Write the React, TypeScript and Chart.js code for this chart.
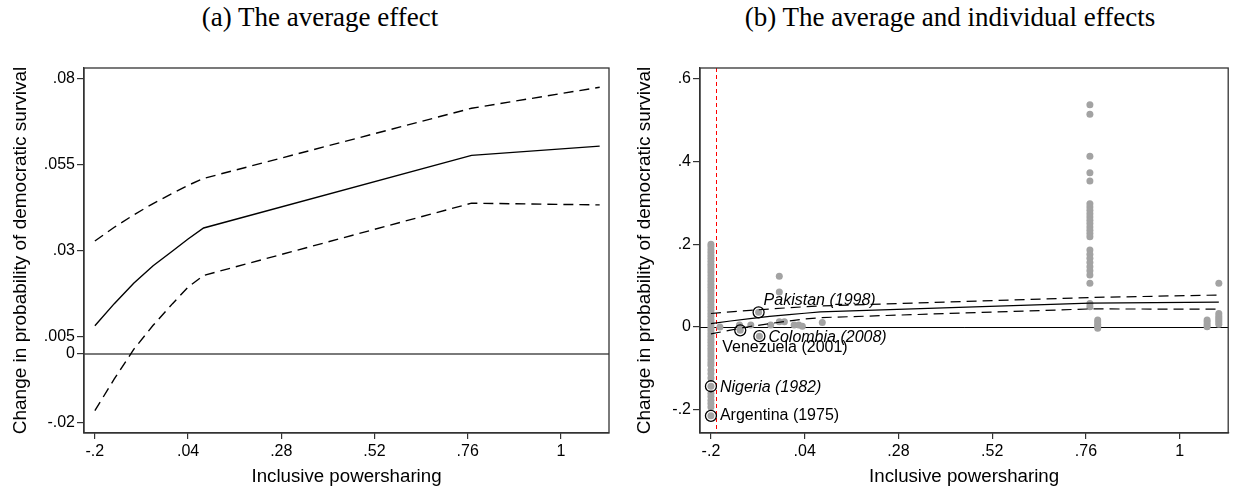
import React, { useEffect, useRef } from 'react';
import { Chart, registerables } from 'chart.js';
Chart.register(...registerables);

// ---- average effect (marginal effect curve with 95% bounds) ----
const X_VALUES = [-0.2, -0.15, -0.1, -0.05, 0, 0.04, 0.08, 0.77, 1.1];
const AVG_EFFECT = [0.0082, 0.0146, 0.0205, 0.0256, 0.0299, 0.0334, 0.0366, 0.0577, 0.0604];
const UPPER_CI = [0.0328, 0.0368, 0.0404, 0.0437, 0.0467, 0.049, 0.051, 0.0714, 0.0775];
const LOWER_CI = [-0.0165, -0.0073, 0.0013, 0.0083, 0.0146, 0.0194, 0.0228, 0.0438, 0.0433];

// ---- axis ticks ----
const X_TICKS = [-0.2, 0.04, 0.28, 0.52, 0.76, 1];
const Y_TICKS_A = [-0.02, 0, 0.005, 0.03, 0.055, 0.08];
const Y_TICKS_B = [-0.2, 0, 0.2, 0.4, 0.6];
const THRESHOLD_X = -0.187;

// ---- individual effects ----
const COL_A_X = -0.2;
const COL_A_Y = [0.2, 0.194, 0.187, 0.18, 0.173, 0.166, 0.159, 0.152, 0.145, 0.138, 0.131, 0.124, 0.117, 0.11,
  0.103, 0.096, 0.089, 0.082, 0.075, 0.068, 0.061, 0.054, 0.047, 0.04, 0.033, 0.026, 0.019, 0.012, 0.005,
  -0.002, -0.009, -0.016, -0.023, -0.03, -0.037, -0.044, -0.051, -0.058, -0.065, -0.072, -0.079, -0.086,
  -0.092, -0.104, -0.113, -0.123, -0.16, -0.168, -0.177, -0.185, -0.193];
const SPREAD_X = [-0.177, -0.127, -0.098, -0.047, -0.025, -0.012, 0.013, 0.025, 0.034, 0.085, -0.025, -0.025];
const SPREAD_Y = [0.0, 0.005, 0.005, 0.005, 0.013, 0.013, 0.005, 0.005, 0.002, 0.011, 0.123, 0.085];
const COL_B_X = 0.77;
const COL_B_Y = [0.537, 0.514, 0.413, 0.373, 0.353, 0.298, 0.29, 0.282, 0.274, 0.266, 0.258, 0.25, 0.242,
  0.234, 0.226, 0.218, 0.186, 0.176, 0.166, 0.156, 0.146, 0.136, 0.126, 0.106, 0.057, 0.049];
const COL_C_X = 0.79;
const COL_C_Y = [0.017, 0.012, 0.007, 0.002, -0.003];
const COL_D_X = 1.07;
const COL_D_Y = [0.017, 0.012, 0.006, 0.001];
const COL_E_X = 1.1;
const COL_E_Y = [0.106, 0.033, 0.027, 0.022, 0.017, 0.012, 0.007];

// ---- highlighted cases ----
const CASE_NAMES = ['Pakistan (1998)', 'Colombia (2008)', 'Venezuela (2001)', 'Nigeria (1982)', 'Argentina (1975)'];
const CASE_X = [-0.078, -0.076, -0.125, -0.2, -0.2];
const CASE_Y = [0.0355, -0.022, -0.008, -0.143, -0.2145];
const CASE_ITALIC = [true, true, false, true, false];
const CASE_DX = [5, 9, -18, 9, 9];
const CASE_DY = [-12, 1, 17, 1, 0];

const SANS = '"Liberation Sans", Arial, Helvetica, sans-serif';
const fmt = (v: number) => {
  const r = Math.round(v * 10000) / 10000;
  return String(r).replace(/^(-?)0\./, '$1.');
};

const W_A = 617;
const W_B = 618;
const H = 491;

function makeOptions(yMin: number, yMax: number, yTicks: number[], yWidth: number, titlePad: number, padRight: number): any {
  return {
    responsive: false,
    animation: false,
    devicePixelRatio: 1,
    layout: { padding: { top: 68, right: padRight, bottom: 0, left: 0 } },
    plugins: { legend: { display: false }, tooltip: { enabled: false }, title: { display: false } },
    scales: {
      x: {
        type: 'linear',
        min: -0.228,
        max: 1.124,
        afterBuildTicks: (axis: any) => { axis.ticks = X_TICKS.map((v) => ({ value: v })); },
        afterFit: (scale: any) => { scale.height = 58; },
        ticks: { callback: (v: any) => fmt(Number(v)), autoSkip: false, maxRotation: 0, padding: 3, color: '#000', font: { family: SANS, size: 16 } },
        grid: { display: true, drawOnChartArea: false, drawTicks: true, tickLength: 6, color: '#333', lineWidth: 1.2 },
        border: { display: true, color: '#333', width: 1.3 },
        title: { display: true, text: 'Inclusive powersharing', color: '#000', font: { family: SANS, size: 18.7 }, padding: { top: 0, bottom: 3 } },
      },
      y: {
        type: 'linear',
        min: yMin,
        max: yMax,
        afterBuildTicks: (axis: any) => { axis.ticks = yTicks.map((v) => ({ value: v })); },
        afterFit: (scale: any) => { scale.width = yWidth; },
        ticks: { callback: (v: any) => fmt(Number(v)), autoSkip: false, padding: 2, color: '#000', font: { family: SANS, size: 16 } },
        grid: { display: true, drawOnChartArea: false, drawTicks: true, tickLength: 7, color: '#333', lineWidth: 1.2 },
        border: { display: true, color: '#333', width: 1.3 },
        title: { display: true, text: 'Change in probability of democratic survival', color: '#000', font: { family: SANS, size: 19 }, padding: { top: titlePad, bottom: 0 } },
      },
    },
  };
}

const lineSets = (width: number) => {
  const pts = (arr: number[]) => X_VALUES.map((x, i) => ({ x, y: arr[i] }));
  return [
    { type: 'scatter', data: pts(AVG_EFFECT), showLine: true, borderColor: '#000', borderWidth: width, pointRadius: 0, fill: false },
    { type: 'scatter', data: pts(UPPER_CI), showLine: true, borderColor: '#000', borderWidth: width, borderDash: [10, 6], pointRadius: 0, fill: false },
    { type: 'scatter', data: pts(LOWER_CI), showLine: true, borderColor: '#000', borderWidth: width, borderDash: [10, 6], pointRadius: 0, fill: false },
  ];
};

const boxPlugin = {
  id: 'plotBox',
  afterDatasetsDraw(chart: any) {
    const { ctx, chartArea: a } = chart;
    ctx.save();
    ctx.strokeStyle = '#333';
    ctx.lineWidth = 1.3;
    ctx.strokeRect(a.left, a.top, a.right - a.left, a.bottom - a.top);
    ctx.restore();
  },
};

const zeroLine = (color: string, width: number) => ({
  id: 'zeroLine',
  beforeDatasetsDraw(chart: any) {
    const { ctx, chartArea: a, scales } = chart;
    let y = scales.y.getPixelForValue(0);
    if (width <= 1) y = Math.round(y) + 0.5;
    ctx.save();
    ctx.strokeStyle = color;
    ctx.lineWidth = width;
    ctx.beginPath();
    ctx.moveTo(a.left, y);
    ctx.lineTo(a.right, y);
    ctx.stroke();
    ctx.restore();
  },
});

const thresholdPlugin = {
  id: 'threshold',
  beforeDatasetsDraw(chart: any) {
    const { ctx, chartArea: a, scales } = chart;
    const x = Math.round(scales.x.getPixelForValue(THRESHOLD_X)) + 0.5;
    ctx.save();
    ctx.strokeStyle = '#ff0000';
    ctx.lineWidth = 1;
    ctx.setLineDash([4, 3]);
    ctx.beginPath();
    ctx.moveTo(x, a.top);
    ctx.lineTo(x, a.bottom);
    ctx.stroke();
    ctx.restore();
  },
};

const labelPlugin = {
  id: 'caseLabels',
  afterDatasetsDraw(chart: any) {
    const { ctx, scales } = chart;
    ctx.save();
    ctx.fillStyle = '#000';
    ctx.textBaseline = 'middle';
    ctx.textAlign = 'left';
    CASE_NAMES.forEach((name, i) => {
      const px = scales.x.getPixelForValue(CASE_X[i]);
      const py = scales.y.getPixelForValue(CASE_Y[i]);
      ctx.font = `${CASE_ITALIC[i] ? 'italic ' : ''}16px ${SANS}`;
      ctx.fillText(name, px + CASE_DX[i], py + CASE_DY[i]);
    });
    ctx.restore();
  },
};

export default function App() {
  const refA = useRef<HTMLCanvasElement>(null);
  const refB = useRef<HTMLCanvasElement>(null);

  useEffect(() => {
    const chartA = new Chart(refA.current as HTMLCanvasElement, {
      type: 'scatter',
      data: { datasets: lineSets(1.4) as any },
      options: makeOptions(-0.023, 0.0831, Y_TICKS_A, 84, 9, 8),
      plugins: [zeroLine('#7a7a7a', 2), boxPlugin],
    } as any);

    const indiv = [
      ...COL_A_Y.map((y) => ({ x: COL_A_X, y })),
      ...SPREAD_X.map((x, i) => ({ x, y: SPREAD_Y[i] })),
      ...COL_B_Y.map((y) => ({ x: COL_B_X, y })),
      ...COL_C_Y.map((y) => ({ x: COL_C_X, y })),
      ...COL_D_Y.map((y) => ({ x: COL_D_X, y })),
      ...COL_E_Y.map((y) => ({ x: COL_E_X, y })),
      ...CASE_X.map((x, i) => ({ x, y: CASE_Y[i] })),
    ];
    const chartB = new Chart(refB.current as HTMLCanvasElement, {
      type: 'scatter',
      data: {
        datasets: [
          { data: CASE_X.map((x, i) => ({ x, y: CASE_Y[i] })), pointRadius: 5.5, pointBorderWidth: 1.3, pointBorderColor: '#000', pointBackgroundColor: 'rgba(0,0,0,0)' },
          ...lineSets(1.2),
          { data: indiv, pointRadius: 3.5, pointBorderWidth: 0, pointBackgroundColor: '#a3a3a3', pointBorderColor: '#a3a3a3' },
        ] as any,
      },
      options: makeOptions(-0.256, 0.626, Y_TICKS_B, 83, 16, 1),
      plugins: [zeroLine('#000', 1), thresholdPlugin, boxPlugin, labelPlugin],
    } as any);

    return () => {
      chartA.destroy();
      chartB.destroy();
    };
  }, []);

  const titleStyle: React.CSSProperties = {
    position: 'absolute',
    top: 0,
    transform: 'translateX(-50%)',
    whiteSpace: 'nowrap',
    fontFamily: '"Liberation Serif", "Times New Roman", serif',
    fontSize: 27,
    lineHeight: '34px',
    color: '#000',
  };

  return (
    <div style={{ position: 'absolute', left: 0, top: 0, width: 1235, height: H, background: '#fff', overflow: 'hidden' }}>
      <div style={{ ...titleStyle, left: 320 }}>(a) The average effect</div>
      <div style={{ ...titleStyle, left: 950 }}>(b) The average and individual effects</div>
      <canvas ref={refA} width={W_A} height={H} style={{ position: 'absolute', left: 0, top: 0, width: W_A, height: H }} />
      <canvas ref={refB} width={W_B} height={H} style={{ position: 'absolute', left: W_A, top: 0, width: W_B, height: H }} />
    </div>
  );
}
